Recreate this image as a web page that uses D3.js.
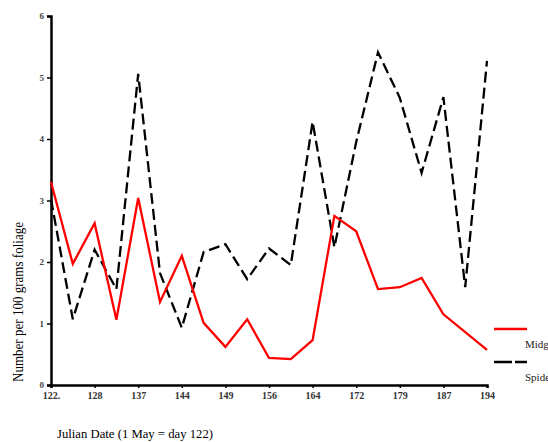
<!DOCTYPE html>
<html>
<head>
<meta charset="utf-8">
<script src="https://cdn.jsdelivr.net/npm/d3@7"></script>
<style>
  html, body { margin: 0; padding: 0; background: #fff; }
  svg { display: block; }
</style>
</head>
<body>
<svg id="chart" width="548" height="442"></svg>
<script>
const tickLabels = ["122.","128","137","144","149","156","164","172","179","187","194"];
const midge  = [3.30,1.97,2.63,1.06,3.04,1.35,2.10,1.01,0.62,1.07,0.44,0.42,0.73,2.75,2.50,1.56,1.59,1.74,1.15,null,0.57];
const spider = [3.02,1.07,2.20,1.56,5.06,1.82,0.93,2.16,2.29,1.72,2.22,1.95,4.28,2.24,3.95,5.41,4.67,3.45,4.68,1.59,5.27];
const yTicks = [0,1,2,3,4,5,6];
const seriesNames = ["Midge","Spider"];

const svg = d3.select("#chart");
const idx = d3.range(midge.length);
const x = d3.scalePoint().domain(idx).range([51, 487]);
const y = d3.scaleLinear().domain([0, 6]).range([385, 16]);

// axes
const yAxis = d3.axisLeft(y).tickValues(yTicks).tickSize(4).tickPadding(3).tickFormat(d3.format("d"));
const gy = svg.append("g").attr("transform", "translate(51,0)").call(yAxis);
gy.select(".domain").attr("stroke", "#000").attr("stroke-width", 2.5);
gy.selectAll(".tick line").attr("stroke", "#000").attr("stroke-width", 1.5);
gy.selectAll(".tick text").attr("font-family", "Liberation Serif, serif").attr("font-size", 9)
  .attr("font-weight", "bold").attr("fill", "#444");

const tickIdx = idx.filter(i => i % 2 === 0);
const xAxis = d3.axisBottom(x).tickValues(tickIdx).tickSize(3).tickPadding(4)
  .tickFormat(i => tickLabels[i / 2]);
const gx = svg.append("g").attr("transform", "translate(0,385)").call(xAxis);
gx.select(".domain").attr("stroke", "#000").attr("stroke-width", 2.5);
gx.selectAll(".tick line").attr("stroke", "#000").attr("stroke-width", 1.5);
gx.selectAll(".tick text").attr("font-family", "Liberation Serif, serif").attr("font-size", 10)
  .attr("font-weight", "bold").attr("fill", "#333");

// lines
const line = d3.line().x(d => x(d.i)).y(d => y(d.v));
const midgePts = midge.map((v, i) => ({i, v})).filter(d => d.v != null);
const spiderPts = spider.map((v, i) => ({i, v})).filter(d => d.v != null);

svg.append("path").datum(spiderPts).attr("d", line)
  .attr("fill", "none").attr("stroke", "#000").attr("stroke-width", 2.3)
  .attr("stroke-dasharray", "11,5");
svg.append("path").datum(midgePts).attr("d", line)
  .attr("fill", "none").attr("stroke", "#ff0000").attr("stroke-width", 2.3)
  .attr("stroke-linejoin", "miter");

// axis titles
svg.append("text").attr("transform", "translate(23,302) rotate(-90)")
  .attr("text-anchor", "middle").attr("font-family", "Liberation Serif, serif")
  .attr("font-size", 14).attr("fill", "#000")
  .attr("textLength", 160).attr("lengthAdjust", "spacingAndGlyphs")
  .text("Number per 100 grams foliage");
svg.append("text").attr("x", 57).attr("y", 438)
  .attr("font-family", "Liberation Serif, serif").attr("font-size", 13.5)
  .attr("fill", "#000")
  .attr("textLength", 156).attr("lengthAdjust", "spacingAndGlyphs")
  .text("Julian Date (1 May = day 122)");

// legend
const leg = svg.append("g");
const legY = [329, 362];
leg.append("line").attr("x1", 494).attr("x2", 527).attr("y1", legY[0]).attr("y2", legY[0])
  .attr("stroke", "#ff0000").attr("stroke-width", 2.3);
leg.append("line").attr("x1", 494).attr("x2", 527).attr("y1", legY[1]).attr("y2", legY[1])
  .attr("stroke", "#000").attr("stroke-width", 2.3).attr("stroke-dasharray", "18,3");
seriesNames.forEach((n, k) => {
  leg.append("text").attr("x", 525).attr("y", legY[k] + 19)
    .attr("font-family", "Liberation Serif, serif").attr("font-size", 11)
    .attr("fill", "#222").text(n);
});
</script>
</body>
</html>
